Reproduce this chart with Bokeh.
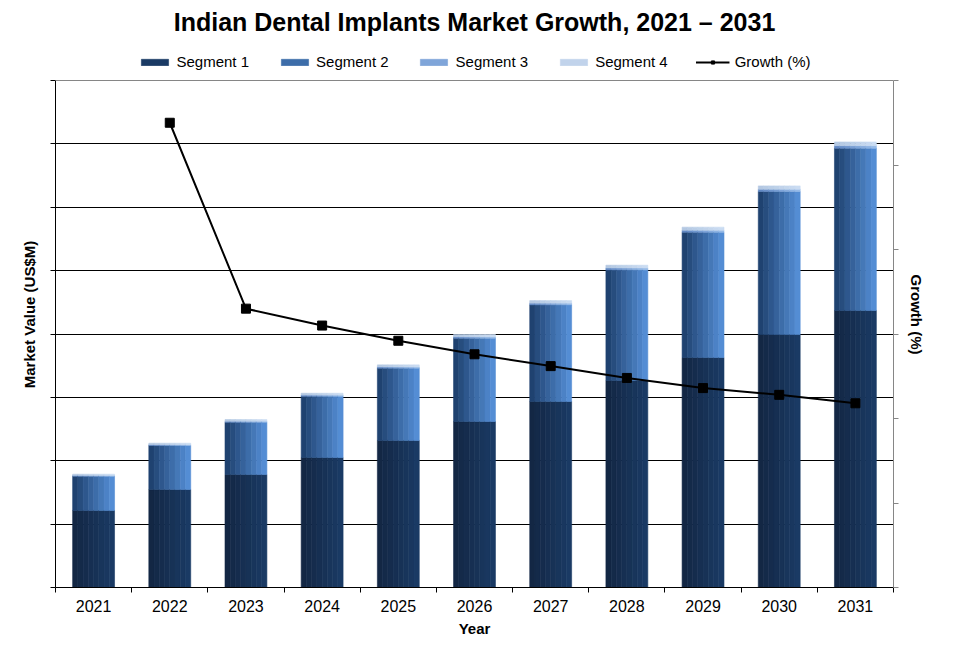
from bokeh.plotting import figure
from bokeh.models import (ColumnDataSource, FixedTicker, LinearAxis, Range1d,
                          Legend, LegendItem, Span)
from bokeh.transform import dodge
from bokeh.embed import file_html
from bokeh.resources import INLINE

# ---------------- data ----------------
years = [2021, 2022, 2023, 2024, 2025, 2026, 2027, 2028, 2029, 2030, 2031]
segment1 = [121.5, 154.6, 178.3, 205.1, 232.0, 261.9, 293.5, 326.6, 362.9, 399.2, 437.1]
segment2 = [54.1, 69.4, 82.5, 96.7, 114.1, 131.4, 152.6, 174.7, 197.7, 225.6, 256.1]
segment3 = [1.2, 1.4, 1.6, 1.8, 2.0, 2.3, 2.6, 2.9, 3.2, 3.6, 4.0]
segment4 = [2.0, 2.3, 2.6, 2.9, 3.2, 3.6, 4.0, 4.4, 4.8, 5.3, 5.8]
growth_years = [2022, 2023, 2024, 2025, 2026, 2027, 2028, 2029, 2030, 2031]
growth = [27.5, 16.5, 15.5, 14.6, 13.8, 13.1, 12.4, 11.8, 11.4, 10.9]
value_ticks = [0, 100, 200, 300, 400, 500, 600, 700, 800]
growth_ticks = [0, 5, 10, 15, 20, 25, 30]

seg_names = ["Segment 1", "Segment 2", "Segment 3", "Segment 4"]
seg_keys = ["s1", "s2", "s3", "s4"]

FONT = "Liberation Sans"

# plot box: 507 px for the axes' span, plus a band on top for the legend
AX_H = 507
LEG_H = 39
FRAME_H = AX_H + LEG_H
v_max = value_ticks[-1]
g_max = growth_ticks[-1]

source = ColumnDataSource(dict(year=years, s1=segment1, s2=segment2,
                               s3=segment3, s4=segment4))
gsource = ColumnDataSource(dict(year=growth_years, g=growth))

p = figure(frame_width=838, frame_height=FRAME_H, output_backend="svg",
           toolbar_location=None,
           x_range=Range1d(2020.5, 2031.5),
           y_range=Range1d(0, v_max * FRAME_H / AX_H),
           min_border_left=55, min_border_right=58, min_border_top=41,
           min_border_bottom=64)
p.extra_y_ranges = {"g": Range1d(0, g_max * FRAME_H / AX_H)}

p.title.text = "Indian Dental Implants Market Growth, 2021 \u2013 2031"
p.title.align = "center"
p.title.vertical_align = "top"
p.title.text_font = FONT
p.title.text_font_size = "25px"
p.title.text_font_style = "bold"
p.title.text_color = "black"
p.title.standoff = 8

p.outline_line_color = None
p.background_fill_color = "white"
p.border_fill_color = "white"

# top border of the plot area (gray)
p.add_layout(Span(location=v_max, dimension="width", line_color="#868686",
                  line_width=1))

# gradient colours (left -> right) for each segment
def lerp(c1, c2, t):
    return "#%02x%02x%02x" % tuple(int(round(a + (b - a) * t)) for a, b in zip(c1, c2))

grad = [((19, 39, 68), (26, 58, 100)),
        ((31, 66, 112), (84, 141, 212)),
        ((96, 136, 196), (150, 186, 232)),
        ((180, 200, 226), (202, 220, 242))]

N = 8
bar_w = 0.55
strip_w = bar_w / N
strip_renderers = [[] for _ in seg_keys]
for i in range(N):
    t = i / (N - 1)
    off = -bar_w / 2 + strip_w * (i + 0.5)
    cols = [lerp(a, b, t) for a, b in grad]
    rs = p.vbar_stack(seg_keys, x=dodge("year", off), width=strip_w,
                      color=cols, line_width=0.6, source=source)
    for k, r in enumerate(rs):
        strip_renderers[k].append(r)

# growth line
gl = p.line("year", "g", source=gsource, y_range_name="g",
            line_color="black", line_width=2)
gm = p.scatter("year", "g", source=gsource, y_range_name="g", marker="square",
               size=9, fill_color="black", line_color="black")

# axes
xa = p.xaxis[0]
xa.ticker = FixedTicker(ticks=years, minor_ticks=[y - 0.5 for y in years] + [years[-1] + 0.5])
xa.major_label_overrides = {y: str(y) for y in years}
xa.major_tick_line_color = None
xa.major_tick_out = 0
xa.minor_tick_line_color = "black"
xa.minor_tick_out = 5
xa.minor_tick_in = 0
xa.axis_line_color = "black"
xa.major_label_text_font = FONT
xa.major_label_text_font_size = "16px"
xa.major_label_text_color = "black"
xa.major_label_standoff = 7
xa.axis_label = "Year"
xa.axis_label_text_font = FONT
xa.axis_label_text_font_size = "15px"
xa.axis_label_text_font_style = "bold"
xa.axis_label_text_color = "black"
xa.axis_label_standoff = 5

ya = p.yaxis[0]
ya.ticker = FixedTicker(ticks=value_ticks)
ya.bounds = (0, v_max)
ya.major_label_overrides = {t: "" for t in value_ticks}
ya.major_label_text_color = None
ya.major_label_standoff = 0
ya.major_tick_line_color = "black"
ya.major_tick_out = 5
ya.major_tick_in = 0
ya.minor_tick_line_color = None
ya.axis_line_color = "black"
ya.axis_label = "Market Value (US$M)"
ya.axis_label_text_font = FONT
ya.axis_label_text_font_size = "15px"
ya.axis_label_text_font_style = "bold"
ya.axis_label_text_color = "black"
ya.axis_label_standoff = 13

ra = LinearAxis(y_range_name="g", ticker=FixedTicker(ticks=growth_ticks),
                bounds=(0, g_max))
ra.major_label_overrides = {t: "" for t in growth_ticks}
ra.major_label_text_color = None
ra.major_label_standoff = 0
ra.major_tick_line_color = "#868686"
ra.major_tick_out = 5
ra.major_tick_in = 0
ra.minor_tick_line_color = None
ra.axis_line_color = "#868686"
ra.axis_label = "Growth (%)"
ra.axis_label_text_font = FONT
ra.axis_label_text_font_size = "15px"
ra.axis_label_text_font_style = "bold"
ra.axis_label_text_color = "black"
ra.axis_label_standoff = 9
p.add_layout(ra, "right")

p.xgrid.grid_line_color = None
p.ygrid.ticker = FixedTicker(ticks=value_ticks[1:-1])
p.ygrid.grid_line_color = "black"
p.ygrid.grid_line_width = 1

# legend in the band above the axes' span
items = []
mid = [N - 1, N // 2, N // 2, N // 2]
for k, name in enumerate(seg_names):
    items.append(LegendItem(label=name, renderers=[strip_renderers[k][mid[k]]]))
items.append(LegendItem(label="Growth (%)", renderers=[gl, gm]))
legend = Legend(items=items, orientation="horizontal", location="top_center",
                label_text_font=FONT, label_text_font_size="15px",
                label_text_color="black", glyph_width=34, glyph_height=8,
                spacing=28, label_standoff=5, border_line_color=None,
                background_fill_alpha=0, margin=12, padding=2)
p.add_layout(legend, "center")

open("out.html", "w").write(file_html(p, INLINE))
